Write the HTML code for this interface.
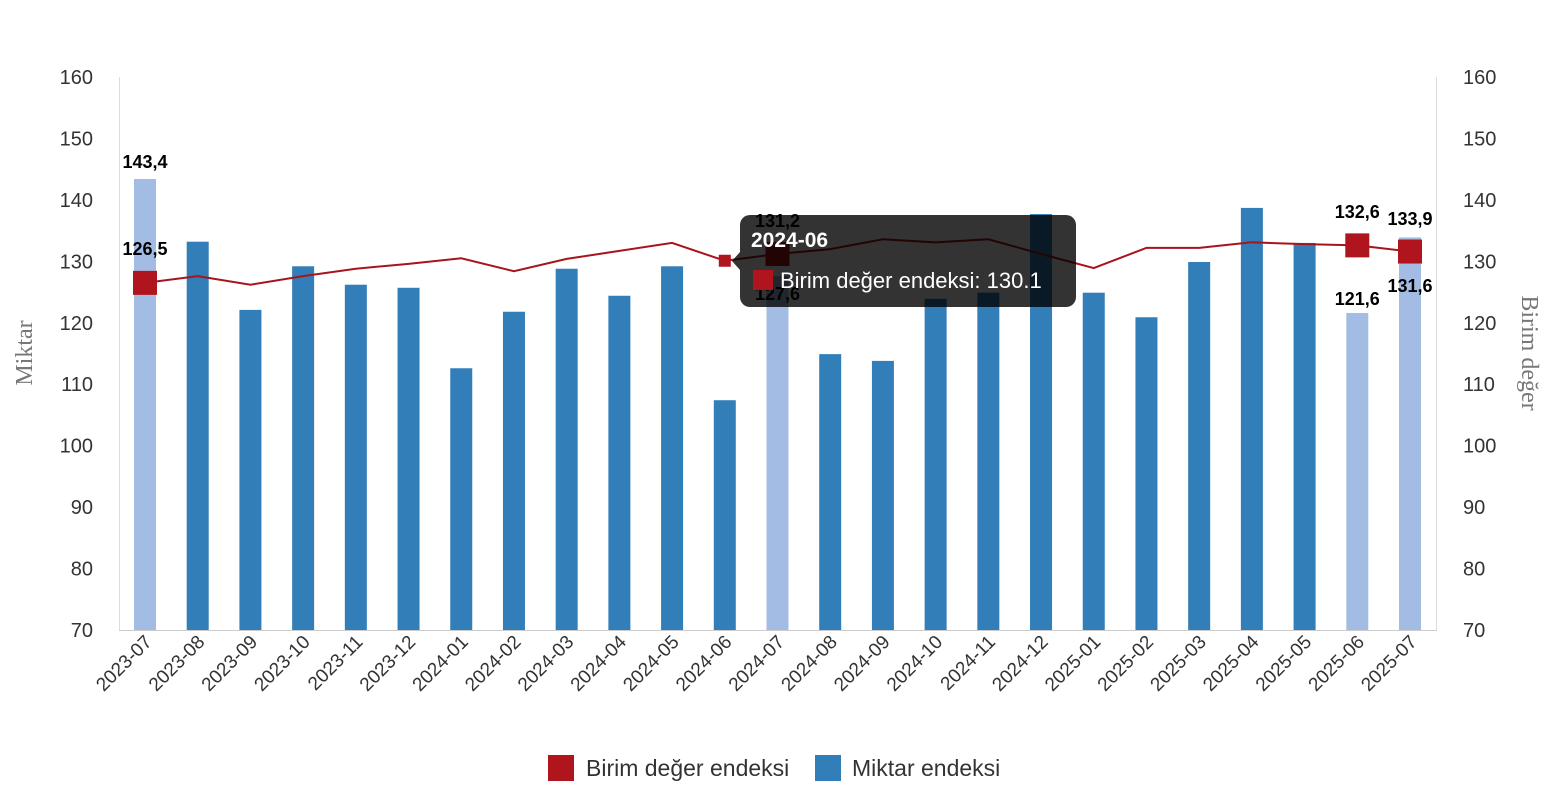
<!DOCTYPE html>
<html><head><meta charset="utf-8"><style>
body{margin:0;background:#fff}
svg text{font-family:"Liberation Sans",sans-serif}
</style></head><body>
<svg width="1556" height="800" xmlns="http://www.w3.org/2000/svg"></svg>
<script>
(function(){
const ns="http://www.w3.org/2000/svg",svg=document.querySelector('svg');
function el(t,a,txt){const e=document.createElementNS(ns,t);for(const k in a)e.setAttribute(k,a[k]);if(txt!=null)e.textContent=txt;svg.appendChild(e);return e;}
const Y=v=>630-(v-70)*6.144;
const cats=["2023-07","2023-08","2023-09","2023-10","2023-11","2023-12","2024-01","2024-02","2024-03","2024-04","2024-05","2024-06","2024-07","2024-08","2024-09","2024-10","2024-11","2024-12","2025-01","2025-02","2025-03","2025-04","2025-05","2025-06","2025-07"];
const n=cats.length, X=i=>145+i*(1410-145)/(n-1);
const bars=[143.4,133.2,122.1,129.2,126.2,125.7,112.6,121.8,128.8,124.4,129.2,107.4,127.6,114.9,113.8,123.9,124.9,137.7,124.9,120.9,129.9,138.7,133,121.6,133.9];
const line=[126.5,127.6,126.2,127.6,128.8,129.6,130.5,128.4,130.4,131.7,133,130.1,131.2,132,133.6,133.1,133.6,131.2,128.9,132.2,132.2,133.1,132.8,132.6,131.6];
const light=[0,12,23,24];
for(let v=70;v<=160;v+=10){el('text',{x:93,y:Y(v)+7,'text-anchor':'end','font-size':20,fill:'#333'},v);el('text',{x:1463,y:Y(v)+7,'font-size':20,fill:'#333'},v);}
el('line',{x1:119.5,y1:77,x2:119.5,y2:630,stroke:'#ddd'});
el('line',{x1:1436.5,y1:77,x2:1436.5,y2:630,stroke:'#ddd'});
el('line',{x1:119,y1:630.5,x2:1437,y2:630.5,stroke:'#ccc'});
el('text',{transform:'translate(32,353) rotate(-90)','text-anchor':'middle','font-size':24,fill:'#777'},'Miktar').style.fontFamily='"Liberation Serif",serif';
el('text',{transform:'translate(1522,353) rotate(90)','text-anchor':'middle','font-size':24,fill:'#777'},'Birim değer').style.fontFamily='"Liberation Serif",serif';
for(let i=0;i<n;i++){
 el('rect',{x:X(i)-11,y:Y(bars[i]),width:22,height:630-Y(bars[i]),fill:light.includes(i)?'#a3bce4':'#317eb9'});
 el('text',{transform:`translate(${X(i)+8},643) rotate(-45)`,'text-anchor':'end','font-size':19,fill:'#333'},cats[i]);
}
el('polyline',{points:line.map((v,i)=>X(i)+','+Y(v)).join(' '),fill:'none',stroke:'#a8141c','stroke-width':2});
for(const i of light){el('rect',{x:X(i)-12,y:Y(line[i])-12,width:24,height:24,fill:'#b0141c'});}
el('rect',{x:X(11)-6,y:Y(line[11])-6,width:12,height:12,fill:'#b0141c'});
const lab=(x,y,t)=>el('text',{x,y,'text-anchor':'middle','font-size':18,'font-weight':'bold',fill:'#000'},t);
lab(145,168,'143,4');lab(145,255,'126,5');lab(X(12),227,'131,2');lab(X(12),300,'127,6');
lab(X(23),218,'132,6');lab(X(23),305,'121,6');lab(X(24),225,'133,9');lab(X(24),292,'131,6');
el('path',{d:'M740,252 L732,261 L740,270 Z',fill:'rgba(0,0,0,0.8)'});
el('rect',{x:740,y:215,width:336,height:92,rx:10,fill:'rgba(0,0,0,0.8)'});
el('text',{x:751,y:247,'font-size':21,'font-weight':'bold',fill:'#fff'},'2024-06');
el('rect',{x:753,y:270,width:20,height:20,fill:'#b0141c'});
el('text',{x:780,y:288,'font-size':22,fill:'#fff'},'Birim değer endeksi: 130.1');
el('rect',{x:548,y:755,width:26,height:26,fill:'#b0141c'});
el('text',{x:586,y:776,'font-size':23,fill:'#333'},'Birim değer endeksi');
el('rect',{x:815,y:755,width:26,height:26,fill:'#317eb9'});
el('text',{x:852,y:776,'font-size':23,fill:'#333'},'Miktar endeksi');
})();
</script>
</body></html>
